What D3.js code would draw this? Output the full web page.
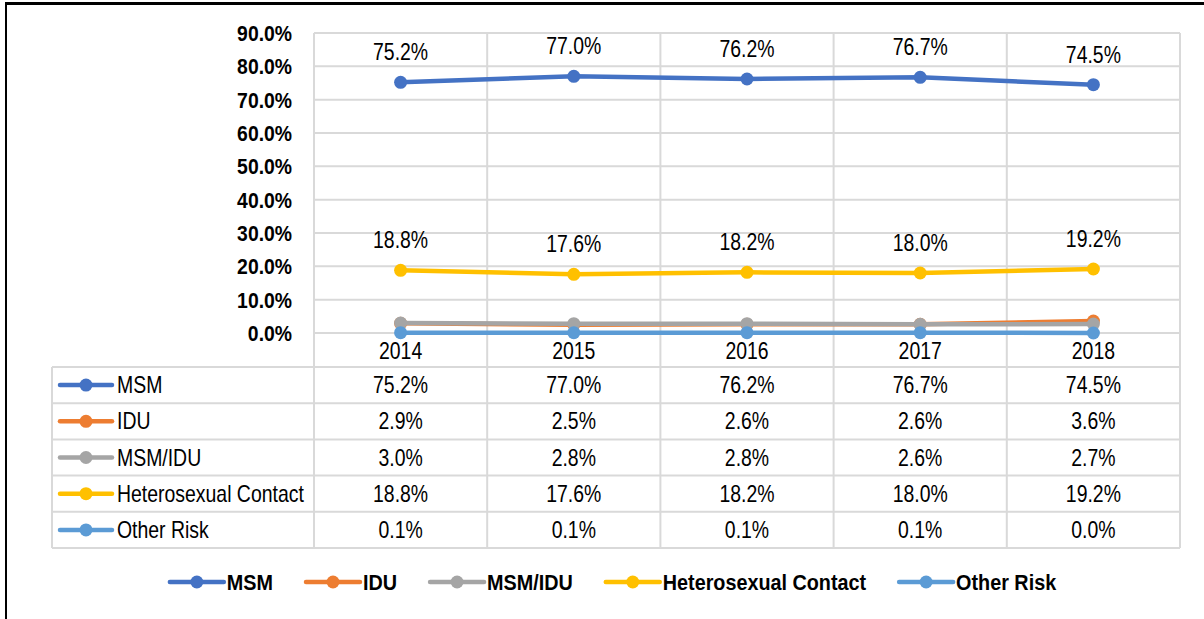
<!DOCTYPE html>
<html>
<head>
<meta charset="utf-8">
<script src="https://cdn.jsdelivr.net/npm/d3@7"></script>
<style>
  html, body { margin: 0; padding: 0; background: #fff; }
  svg { display: block; }
</style>
</head>
<body>
<div id="chart"></div>
<script>
const years = ['2014', '2015', '2016', '2017', '2018'];
const seriesNames = ['MSM', 'IDU', 'MSM/IDU', 'Heterosexual Contact', 'Other Risk'];
const seriesColors = ['#4472C4', '#ED7D31', '#A5A5A5', '#FFC000', '#5B9BD5'];
const msmValues = [75.2, 77.0, 76.2, 76.7, 74.5];
const iduValues = [2.9, 2.5, 2.6, 2.6, 3.6];
const msmIduValues = [3.0, 2.8, 2.8, 2.6, 2.7];
const heteroValues = [18.8, 17.6, 18.2, 18.0, 19.2];
const otherValues = [0.1, 0.1, 0.1, 0.1, 0.0];
const yTicks = [0, 10, 20, 30, 40, 50, 60, 70, 80, 90];
// only these series carry point labels on the chart
const labelledSeries = ['MSM', 'Heterosexual Contact'];

const allValues = [msmValues, iduValues, msmIduValues, heteroValues, otherValues];
const series = seriesNames.map((name, i) => ({ name, color: seriesColors[i], values: allValues[i] }));

const width = 1204, height = 619;
const font = '"Liberation Sans", Arial, sans-serif';
const gridColor = '#d9d9d9';

const svg = d3.select('#chart').append('svg')
  .attr('width', width)
  .attr('height', height);

const x = d3.scaleBand().domain(years).range([314, 1180]);
const y = d3.scaleLinear().domain([0, 90]).range([333, 33]);

const tableLeft = 52;
const headerBottom = 367;
const rowH = 36.2;

// text in the picture is a bit condensed, so squeeze it horizontally
function label(g, tx, ty, str, anchor, bold) {
  return g.append('text')
    .attr('transform', `translate(${tx},${ty}) scale(${bold ? 0.9 : 0.845},1)`)
    .attr('text-anchor', anchor || 'middle')
    .style('font-family', font)
    .style('font-size', bold ? '22px' : '23px')
    .style('font-weight', bold ? 'bold' : 'normal')
    .attr('fill', '#000')
    .text(str);
}

// frame
svg.append('line').attr('x1', 5).attr('x2', width).attr('y1', 3.5).attr('y2', 3.5)
  .attr('stroke', '#000').attr('stroke-width', 3);
svg.append('line').attr('x1', 6).attr('x2', 6).attr('y1', 2).attr('y2', height)
  .attr('stroke', '#000').attr('stroke-width', 2);

// horizontal gridlines
const grid = svg.append('g');
grid.selectAll('line.h')
  .data(yTicks)
  .enter().append('line')
  .attr('x1', x.range()[0]).attr('x2', x.range()[1])
  .attr('y1', d => y(d)).attr('y2', d => y(d))
  .attr('stroke', gridColor).attr('stroke-width', 2);

// vertical column lines run through plot and table
const tableBottom = headerBottom + rowH * series.length;
const colEdges = years.map(d => x(d)).concat([x.range()[1]]);
grid.selectAll('line.v')
  .data(colEdges)
  .enter().append('line')
  .attr('x1', d => d).attr('x2', d => d)
  .attr('y1', y(90)).attr('y2', tableBottom)
  .attr('stroke', gridColor).attr('stroke-width', 2);

// table rows
const rowLines = d3.range(series.length + 1).map(i => headerBottom + i * rowH);
grid.selectAll('line.r')
  .data(rowLines)
  .enter().append('line')
  .attr('x1', tableLeft).attr('x2', x.range()[1])
  .attr('y1', d => d).attr('y2', d => d)
  .attr('stroke', gridColor).attr('stroke-width', 2);
grid.append('line')
  .attr('x1', tableLeft).attr('x2', tableLeft)
  .attr('y1', headerBottom).attr('y2', tableBottom)
  .attr('stroke', gridColor).attr('stroke-width', 2);

// y axis labels
const yAxis = svg.append('g')
  .attr('transform', 'translate(292,0)')
  .call(d3.axisLeft(y).tickValues(yTicks).tickSize(0).tickPadding(0)
    .tickFormat(d => d.toFixed(1) + '%'));
yAxis.select('.domain').remove();
yAxis.selectAll('.tick text')
  .attr('x', 0)
  .attr('dy', null)
  .attr('y', 7.5)
  .attr('transform', 'scale(0.88,1)')
  .style('font-family', font)
  .style('font-size', '22px')
  .style('font-weight', 'bold')
  .attr('fill', '#000');

// year labels (header row)
years.forEach(yr => label(svg, x(yr) + x.bandwidth() / 2, 359, yr));

// lines and markers
const cx = d => x(d) + x.bandwidth() / 2;
const lineGen = d3.line().x((v, i) => cx(years[i])).y(v => y(v));

series.forEach(s => {
  const g = svg.append('g');
  g.append('path')
    .datum(s.values)
    .attr('d', lineGen)
    .attr('fill', 'none')
    .attr('stroke', s.color)
    .attr('stroke-width', 4.5)
    .attr('stroke-linejoin', 'round')
    .attr('stroke-linecap', 'round');
  g.selectAll('circle')
    .data(s.values)
    .enter().append('circle')
    .attr('cx', (v, i) => cx(years[i]))
    .attr('cy', v => y(v))
    .attr('r', 6.5)
    .attr('fill', s.color);
});

// point labels
series.filter(s => labelledSeries.includes(s.name)).forEach(s => {
  s.values.forEach((v, i) => label(svg, cx(years[i]), y(v) - 22, v.toFixed(1) + '%'));
});

// table body
series.forEach((s, r) => {
  const rowMid = headerBottom + rowH * (r + 0.5);
  svg.append('line')
    .attr('x1', 60).attr('x2', 112)
    .attr('y1', rowMid).attr('y2', rowMid)
    .attr('stroke', s.color).attr('stroke-width', 4.5).attr('stroke-linecap', 'round');
  svg.append('circle').attr('cx', 86).attr('cy', rowMid).attr('r', 6.5).attr('fill', s.color);
  label(svg, 117, rowMid + 8, s.name, 'start');
  s.values.forEach((v, i) => label(svg, cx(years[i]), rowMid + 8, v.toFixed(1) + '%'));
});

// bottom legend, centred
const legend = svg.append('g');
const items = series.map(s => {
  const g = legend.append('g');
  g.append('line').attr('x1', 2).attr('x2', 56).attr('y1', 0).attr('y2', 0)
    .attr('stroke', s.color).attr('stroke-width', 4.5).attr('stroke-linecap', 'round');
  g.append('circle').attr('cx', 29).attr('cy', 0).attr('r', 6.5).attr('fill', s.color);
  const t = label(g, 59, 8, s.name, 'start', true);
  return { g, w: 59 + t.node().getComputedTextLength() * 0.9 };
});
const gap = 31;
const total = d3.sum(items, d => d.w) + gap * (items.length - 1);
let lx = 612 - total / 2;
items.forEach(it => {
  it.g.attr('transform', `translate(${lx},582)`);
  lx += it.w + gap;
});
</script>
</body>
</html>
